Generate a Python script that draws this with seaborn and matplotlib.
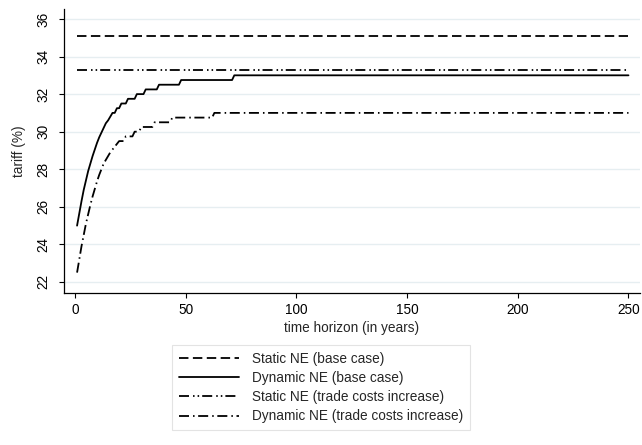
import matplotlib
matplotlib.use("Agg")
import matplotlib.pyplot as plt
import pandas as pd
import seaborn as sns

# values (years 1..250, tariff in %)
base_static_years = [1, 250]
base_static_tariff = [35.1, 35.1]

base_dyn_years = [1, 2, 3, 4, 5, 6, 7, 8, 9, 10, 11, 12, 13, 14, 15, 16, 17,
                  18, 19, 20, 21, 23, 24, 27, 28, 31, 32, 37, 38, 47, 48, 71, 72, 250]
base_dyn_tariff = [25.0, 25.65, 26.3, 26.9, 27.4, 27.9, 28.3, 28.7, 29.05, 29.4,
                   29.7, 29.95, 30.2, 30.45, 30.6, 30.8, 31.0, 31.0, 31.25, 31.25,
                   31.5, 31.5, 31.75, 31.75, 32.0, 32.0, 32.25, 32.25, 32.5, 32.5,
                   32.75, 32.75, 33.0, 33.0]

trade_static_years = [1, 250]
trade_static_tariff = [33.3, 33.3]

trade_dyn_years = [1, 2, 3, 4, 5, 6, 7, 8, 9, 10, 11, 12, 13, 14, 15, 16, 17,
                   18, 19, 20, 22, 23, 26, 27, 29, 30, 35, 36, 43, 44, 62, 63, 250]
trade_dyn_tariff = [22.5, 23.2, 23.9, 24.5, 25.1, 25.6, 26.1, 26.55, 26.95, 27.35,
                    27.7, 28.0, 28.3, 28.5, 28.7, 28.9, 29.05, 29.2, 29.35, 29.5,
                    29.5, 29.75, 29.75, 30.0, 30.0, 30.25, 30.25, 30.5, 30.5, 30.75,
                    30.75, 31.0, 31.0]

labels = ["Static NE (base case)", "Dynamic NE (base case)",
          "Static NE (trade costs increase)", "Dynamic NE (trade costs increase)"]

frames = []
for lab, xs, ys in zip(labels,
                       [base_static_years, base_dyn_years, trade_static_years, trade_dyn_years],
                       [base_static_tariff, base_dyn_tariff, trade_static_tariff, trade_dyn_tariff]):
    frames.append(pd.DataFrame({"year": xs, "tariff": ys, "series": lab}))
df = pd.concat(frames, ignore_index=True)

sns.set_style("white")
plt.rcParams["font.family"] = ["Liberation Sans", "DejaVu Sans"]
plt.rcParams["lines.scale_dashes"] = False

FS = 9.8

fig = plt.figure(figsize=(6.42, 4.45), dpi=100)
ax = fig.add_axes([64 / 642, 1 - 292.7 / 445, 576 / 642, 283.7 / 445])

dash_map = {
    labels[0]: (6.8, 3.2),
    labels[1]: "",
    labels[2]: (7.2, 2.9, 1.1, 2.2, 1.1, 2.2),
    labels[3]: (7.2, 2.9, 1.1, 2.6),
}
sns.lineplot(data=df, x="year", y="tariff", hue="series", style="series",
             hue_order=labels, style_order=labels,
             palette=["black"] * 4, dashes=dash_map, estimator=None,
             linewidth=1.3, legend=False, ax=ax)

ax.set_xlim(-4.9, 255.2)
ax.set_ylim(21.43, 36.53)
ax.set_xticks(range(0, 251, 50))
ax.set_yticks(range(22, 37, 2))
ax.tick_params(axis="both", direction="out", length=3.6, width=0.8,
               labelsize=FS, colors="black")
ax.tick_params(axis="x", bottom=True, pad=3.5)
ax.tick_params(axis="y", left=True, pad=6)
for lbl in ax.get_yticklabels():
    lbl.set_rotation(90)
    lbl.set_va("center")

ax.yaxis.grid(True, color="#e6eef1", linewidth=1)
ax.xaxis.grid(False)
sns.despine(ax=ax)
for side in ["left", "bottom"]:
    ax.spines[side].set_color("black")
    ax.spines[side].set_linewidth(0.9)

ax.set_xlabel("time horizon (in years)", fontsize=FS, labelpad=3)
ax.set_ylabel("tariff (%)", fontsize=FS, labelpad=8)

leg = fig.legend(ax.get_lines()[:4], labels, loc="upper center",
                 bbox_to_anchor=(0.5, 1 - 345 / 445), ncol=1, frameon=True,
                 fancybox=False, edgecolor="#dcdcdc", handlelength=4.4,
                 handletextpad=1.0, borderpad=0.5, labelspacing=0.38,
                 fontsize=FS, borderaxespad=0)
leg.get_frame().set_linewidth(0.8)

fig.savefig("out.png", dpi=100)
